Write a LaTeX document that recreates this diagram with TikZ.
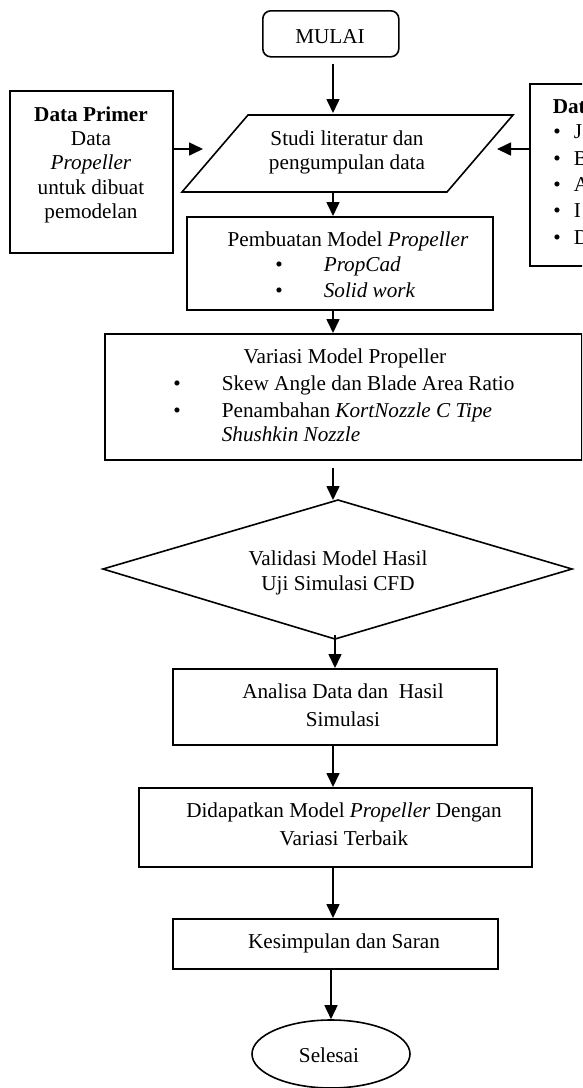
\documentclass[tikz,border=0pt]{standalone}
\usepackage{fontspec}
\setmainfont{Liberation Serif}
\usetikzlibrary{arrows.meta,shapes.geometric,calc}
\newcommand\myfs{\fontsize{21.2}{25}\selectfont}
\begin{document}
\begin{tikzpicture}[x=1pt,y=-1pt,line width=1.6pt,
  box/.style={draw,rectangle,inner sep=0pt,anchor=north west},
  txt/.style={inner sep=0pt,anchor=base,font=\myfs},
  ltxt/.style={inner sep=0pt,anchor=base west,font=\myfs},
  arr/.style={-{Triangle[length=14pt,width=13pt]},line width=1.6pt}]
\clip (0,0) rectangle (582,1088);
\useasboundingbox (0,0) rectangle (582,1088);

% shapes
\node[box,rounded corners=8pt,minimum width=136pt,minimum height=46pt] (mulai) at (262,10) {};
\node[box,minimum width=163pt,minimum height=162pt] (primer) at (9,90) {};
\node[box,minimum width=90pt,minimum height=182pt] (sekunder) at (529,83) {};
\coordinate (s1) at (248,115);
\coordinate (s2) at (513,115);
\coordinate (s3) at (447,192);
\coordinate (s4) at (182,192);
\draw (s1) -- (s2) -- (s3) -- (s4) -- cycle;
\node[box,minimum width=306pt,minimum height=93pt] (pembuatan) at (186,216) {};
\node[box,minimum width=477pt,minimum height=126pt] (variasi) at (104,333) {};
\coordinate (dT) at (338,500);
\coordinate (dR) at (572,569);
\coordinate (dB) at (335,639);
\coordinate (dL) at (103,569);
\draw (dT) -- (dR) -- (dB) -- (dL) -- cycle;
\node[box,minimum width=324pt,minimum height=76pt] (analisa) at (172,668) {};
\node[box,minimum width=393pt,minimum height=79pt] (didapat) at (138,787) {};
\node[box,minimum width=325pt,minimum height=50pt] (kesimpulan) at (172,918) {};
\node[draw,ellipse,inner sep=0pt,minimum width=158pt,minimum height=68pt] (selesai) at (331,1054) {};

% texts
\node[txt] (tmulai) at (330,43) {MULAI};
\node[txt] (tp1) at (91,121) {\textbf{Data Primer}};
\node[txt] (tp2) at (91,145) {Data};
\node[txt] (tp3) at (91,169) {\textit{Propeller}};
\node[txt] (tp4) at (91,194) {untuk dibuat};
\node[txt] (tp5) at (91,218) {pemodelan};
\node[txt] (ts1) at (347,145) {Studi literatur dan};
\node[txt] (ts2) at (347,169) {pengumpulan data};
\node[ltxt] (tk0) at (552,113) {\textbf{Dat}};
\foreach \yy/\ll [count=\i] in {138/J,165/B,191/A,217/I,244/D}{
  \node[txt] (tkb\i) at (557,\yy) {•};
  \node[ltxt] (tk\i) at (573,\yy) {\ll};
}
\node[txt] (tb1) at (348,246) {Pembuatan Model \textit{Propeller}};
\node[txt] (tbb1) at (279,271) {•};
\node[ltxt] (tb2) at (323,271) {\textit{PropCad}};
\node[txt] (tbb2) at (279,297) {•};
\node[ltxt] (tb3) at (323,297) {\textit{Solid work}};
\node[txt] (tv1) at (345,363) {Variasi Model Propeller};
\node[txt] (tvb1) at (177,390) {•};
\node[ltxt] (tv2) at (221,390) {Skew Angle dan Blade Area Ratio};
\node[txt] (tvb2) at (177,417) {•};
\node[ltxt] (tv3) at (221,417) {Penambahan \textit{KortNozzle C Tipe}};
\node[ltxt] (tv4) at (221,441) {\textit{Shushkin Nozzle}};
\node[txt] (td1) at (338,565) {Validasi Model Hasil};
\node[txt] (td2) at (338,590) {Uji Simulasi CFD};
\node[txt] (ta1) at (343,698) {Analisa Data dan\ \ Hasil};
\node[txt] (ta2) at (343,726) {Simulasi};
\node[txt] (tg1) at (344,817) {Didapatkan Model \textit{Propeller} Dengan};
\node[txt] (tg2) at (344,845) {Variasi Terbaik};
\node[txt] (tks) at (344,948) {Kesimpulan dan Saran};
\node[txt] (tse) at (329,1062) {Selesai};

% connectors
\coordinate (studiTop) at (333,113);
\coordinate (studiL) at (203,149);
\coordinate (studiR) at (497,149);
\coordinate (studiBot) at (333,192);
\coordinate (dTa) at (333,500);
\coordinate (col) at (333,0);
\draw[arr] ([yshift=-6pt]mulai.south -| studiTop) -- (studiTop);
\draw[arr] (primer.east |- studiL) -- (studiL);
\draw[arr] (sekunder.west |- studiR) -- (studiR);
\draw[arr] (studiBot) -- (studiBot |- pembuatan.north);
\draw[arr] (pembuatan.south -| studiBot) -- (studiBot |- variasi.north);
\draw[arr] ([yshift=-7pt]variasi.south -| dTa) -- (dTa);
\draw[arr] ([yshift=4pt]dB) -- (dB |- analisa.north);
\draw[arr] (analisa.south -| col) -- (didapat.north -| col);
\draw[arr] (didapat.south -| col) -- (kesimpulan.north -| col);
\draw[arr] (kesimpulan.south -| selesai.north) -- (selesai.north);
\end{tikzpicture}
\end{document}
